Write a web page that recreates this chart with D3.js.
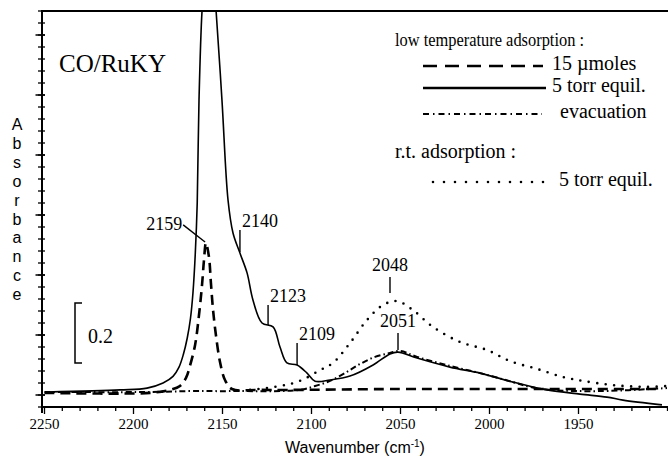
<!DOCTYPE html>
<html>
<head>
<meta charset="utf-8">
<script src="https://cdn.jsdelivr.net/npm/d3@7"></script>
<style>
  body { margin: 0; background: #fff; }
  svg { display: block; }
</style>
</head>
<body>
<svg id="chart" width="668" height="456"></svg>
<script>
// [wavenumber cm-1, absorbance]
var lowT_15umol = [
    [2250, 0.007], [2190.7, 0.007], [2179.5, 0.017], [2173.9, 0.030], [2170.5, 0.057],
    [2168.3, 0.097], [2165.4, 0.167], [2163.2, 0.267], [2161.5, 0.367], [2160.4, 0.450],
    [2159.3, 0.507], [2157.6, 0.460], [2156.5, 0.373], [2155.3, 0.283], [2153.7, 0.200],
    [2151.4, 0.110], [2148.6, 0.050], [2144.7, 0.020], [2129.0, 0.017], [2050, 0.020],
    [1994, 0.020], [1904, 0.020]
];

var lowT_5torr = [
    [2248.6, 0.010], [2207.6, 0.017], [2192.4, 0.023], [2183.4, 0.040], [2177.8, 0.062],
    [2174.5, 0.092], [2172.0, 0.135], [2169.8, 0.190], [2168.0, 0.255], [2166.6, 0.340],
    [2165.3, 0.470], [2164.2, 0.640], [2163.2, 0.983], [2161.5, 1.280], [2159.8, 1.400],
    [2157.5, 1.480], [2155.3, 1.400], [2153.6, 1.280], [2150.3, 0.983], [2146.9, 0.650],
    [2144.1, 0.540], [2140.2, 0.473], [2136.2, 0.407], [2132.9, 0.317], [2127.8, 0.240],
    [2121.6, 0.227], [2117.7, 0.160], [2113.8, 0.107], [2108.1, 0.100], [2102.5, 0.073],
    [2098.0, 0.046], [2089.6, 0.050], [2078.4, 0.063], [2065.4, 0.100], [2055.9, 0.137],
    [2051.4, 0.143], [2040.7, 0.123], [2022.2, 0.093], [2005.3, 0.073], [1986.8, 0.043],
    [1967.7, 0.017], [1949.2, 0.003], [1934.0, -0.007], [1925.0, -0.017], [1903.1, -0.033]
];

var lowT_evac = [
    [2250, 0.010], [2190.7, 0.010], [2168.3, 0.013], [2145.8, 0.013], [2106.5, 0.017],
    [2098.0, 0.030], [2089.6, 0.047], [2081.2, 0.073], [2072.8, 0.103], [2064.3, 0.127],
    [2055.9, 0.140], [2050.3, 0.147], [2040.7, 0.127], [2022.2, 0.097], [2005.3, 0.073],
    [1986.8, 0.043], [1977.2, 0.027], [1966.0, 0.017], [1937.9, 0.013], [1900.3, 0.023]
];

var rt_5torr = [
    [2134.5, 0.017], [2117.7, 0.030], [2106.5, 0.047], [2095.2, 0.083], [2087.9, 0.107],
    [2078.4, 0.173], [2068.8, 0.250], [2059.8, 0.300], [2052.0, 0.313], [2043.0, 0.283],
    [2031.8, 0.227], [2016.6, 0.177], [2001.4, 0.150], [1988.5, 0.113], [1973.3, 0.087],
    [1958.7, 0.060], [1947.5, 0.047], [1930.6, 0.033], [1911.5, 0.027], [1900.0, 0.030]
];

var xMajorTicks = [2250, 2200, 2150, 2100, 2050, 2000, 1950];
var xMinorTicks = d3.range(2250, 1899, -10);
var yMajorTicks = [0, 0.2, 0.4, 0.6, 0.8, 1.0, 1.2];
var yMinorTicks = d3.range(-0.04, 1.281, 0.04);

// peak labels: text, tick wavenumber, tick top/bottom absorbance
var peakLabels = [
    { text: "2140", wn: 2140.2, top: 0.55, bottom: 0.477, align: "start" },
    { text: "2123", wn: 2124.4, top: 0.30, bottom: 0.233, align: "start" },
    { text: "2109", wn: 2108.1, top: 0.173, bottom: 0.10, align: "start" },
    { text: "2048", wn: 2055.9, top: 0.393, bottom: 0.34, align: "middle" },
    { text: "2051", wn: 2051.4, top: 0.207, bottom: 0.15, align: "middle" }
];
var label2159 = { text: "2159", from: [2172.1, 0.567], to: [2159.8, 0.51] };
var scaleBar = { value: 0.2, base: 0.107, label: "0.2" };

var svg = d3.select("#chart");
var serif = "'Liberation Serif', 'Times New Roman', serif";
var sans = "'Liberation Sans', Arial, sans-serif";

var x = d3.scaleLinear().domain([2250, 1900]).range([44.5, 667.5]);
var y = d3.scaleLinear().domain([-0.04, 1.28]).range([407, 11]);

var styles = {
    dashed:  { width: 2.6, dash: "10,6", cap: "butt" },
    solid:   { width: 1.6, dash: null, cap: "butt" },
    dashdot: { width: 2.0, dash: "6,3,1.5,3", cap: "butt" },
    dotted:  { width: 2.6, dash: "0,8.5", cap: "round" }
};

svg.append("clipPath").attr("id", "plotclip")
    .append("rect").attr("x", 42).attr("y", 11).attr("width", 626).attr("height", 396);

var line = d3.line()
    .x(d => x(d[0]))
    .y(d => y(d[1]))
    .curve(d3.curveCatmullRom.alpha(0.5));

var curves = [
    { data: lowT_15umol, style: styles.dashed },
    { data: lowT_evac, style: styles.dashdot },
    { data: rt_5torr, style: styles.dotted },
    { data: lowT_5torr, style: styles.solid }
];

svg.append("g")
    .attr("clip-path", "url(#plotclip)")
    .selectAll("path")
    .data(curves)
    .join("path")
    .attr("d", d => line(d.data))
    .attr("fill", "none")
    .attr("stroke", "#000")
    .attr("stroke-width", d => d.style.width)
    .attr("stroke-dasharray", d => d.style.dash)
    .attr("stroke-linecap", d => d.style.cap);

// x axis: ticks point down, labels only on majors
var axes = svg.append("g").attr("stroke", "#000");
axes.selectAll("line.xmin")
    .data(xMinorTicks)
    .join("line").attr("class", "xmin")
    .attr("x1", d => x(d)).attr("x2", d => x(d))
    .attr("y1", 407).attr("y2", d => xMajorTicks.includes(d) ? 414 : 411)
    .attr("stroke-width", 1.3);

svg.append("g")
    .selectAll("text")
    .data(xMajorTicks)
    .join("text")
    .attr("x", d => x(d)).attr("y", 429)
    .attr("text-anchor", "middle")
    .attr("font-family", serif).attr("font-size", 15)
    .text(d3.format("d"));

// y axis: ticks on both sides, no labels
axes.selectAll("line.ymin")
    .data(yMinorTicks)
    .join("line").attr("class", "ymin")
    .attr("x1", 38).attr("x2", 45)
    .attr("y1", d => y(d)).attr("y2", d => y(d))
    .attr("stroke-width", 1.3);
axes.selectAll("line.ymaj")
    .data(yMajorTicks)
    .join("line").attr("class", "ymaj")
    .attr("x1", 35.5).attr("x2", 45)
    .attr("y1", d => y(d)).attr("y2", d => y(d))
    .attr("stroke-width", 1.5);

axes.append("line").attr("x1", 42).attr("x2", 668).attr("y1", 407).attr("y2", 407)
    .attr("stroke-width", 2);
axes.append("line").attr("x1", 42).attr("x2", 42).attr("y1", 10).attr("y2", 413)
    .attr("stroke-width", 2);
axes.append("line").attr("x1", 41).attr("x2", 668).attr("y1", 11).attr("y2", 11)
    .attr("stroke-width", 2);

// axis titles
var xt = svg.append("text")
    .attr("x", 355).attr("y", 453)
    .attr("text-anchor", "middle")
    .attr("font-family", sans).attr("font-size", 16);
xt.append("tspan").text("Wavenumber  (cm");
xt.append("tspan").attr("font-size", 10).attr("dy", -6).text("-1");
xt.append("tspan").attr("dy", 6).text(")");

svg.append("g")
    .selectAll("text")
    .data("Absorbance".split(""))
    .join("text")
    .attr("x", 17)
    .attr("y", (d, i) => 130 + i * 18.9)
    .attr("text-anchor", "middle")
    .attr("font-family", sans).attr("font-size", 16)
    .text(d => d);

// sample title
svg.append("text")
    .attr("x", 59).attr("y", 72)
    .attr("font-family", serif).attr("font-size", 25)
    .text("CO/RuKY");

// scale bar
var sbX = 75;
var sbTop = y(scaleBar.base + scaleBar.value), sbBot = y(scaleBar.base);
svg.append("path")
    .attr("d", `M${sbX + 7},${sbTop}H${sbX}V${sbBot}H${sbX + 7}`)
    .attr("fill", "none").attr("stroke", "#000").attr("stroke-width", 1.5);
svg.append("text")
    .attr("x", 88).attr("y", (sbTop + sbBot) / 2 + 10)
    .attr("font-family", serif).attr("font-size", 20)
    .text(scaleBar.label);

// peak labels
var pk = svg.append("g").attr("font-family", serif).attr("font-size", 18);
pk.selectAll("line")
    .data(peakLabels)
    .join("line")
    .attr("x1", d => x(d.wn)).attr("x2", d => x(d.wn))
    .attr("y1", d => y(d.top)).attr("y2", d => y(d.bottom))
    .attr("stroke", "#000").attr("stroke-width", 1.4);
pk.selectAll("text")
    .data(peakLabels)
    .join("text")
    .attr("x", d => x(d.wn) + (d.align === "start" ? 2 : 0))
    .attr("y", d => y(d.top) - (d.align === "start" ? 3 : 6))
    .attr("text-anchor", d => d.align)
    .text(d => d.text);

pk.append("line")
    .attr("x1", x(label2159.from[0])).attr("y1", y(label2159.from[1]))
    .attr("x2", x(label2159.to[0])).attr("y2", y(label2159.to[1]))
    .attr("stroke", "#000").attr("stroke-width", 1.4);
pk.append("text")
    .attr("x", x(label2159.from[0]) - 1).attr("y", y(label2159.from[1]) + 5)
    .attr("text-anchor", "end")
    .text(label2159.text);

// legend
var legend = svg.append("g").attr("font-family", serif).attr("font-size", 20);
legend.append("text").attr("x", 395).attr("y", 46)
    .attr("font-size", 19)
    .attr("textLength", 189).attr("lengthAdjust", "spacingAndGlyphs")
    .text("low temperature adsorption :");
legend.append("text").attr("x", 395).attr("y", 158)
    .text("r.t. adsorption :");

var legendItems = [
    { label: "15 \u00b5moles", style: styles.dashed, dash: "14,8", ly: 66, tx: 552, x0: 423, x1: 543 },
    { label: "5 torr equil.", style: { width: 2.6, dash: null, cap: "butt" }, dash: null, ly: 88, tx: 552, x0: 423, x1: 546 },
    { label: "evacuation", style: styles.dashdot, dash: "6,4,1.5,4", ly: 114, tx: 560, x0: 423, x1: 542 },
    { label: "5 torr equil.", style: styles.dotted, dash: "0,11", ly: 182, tx: 559, x0: 433, x1: 545 }
];
legendItems.forEach(function (d) {
    legend.append("line")
        .attr("x1", d.x0).attr("x2", d.x1).attr("y1", d.ly).attr("y2", d.ly)
        .attr("stroke", "#000")
        .attr("stroke-width", d.style.width)
        .attr("stroke-dasharray", d.dash)
        .attr("stroke-linecap", d.style.cap);
    legend.append("text").attr("x", d.tx).attr("y", d.ly + 4)
        .text(d.label);
});
</script>
</body>
</html>
